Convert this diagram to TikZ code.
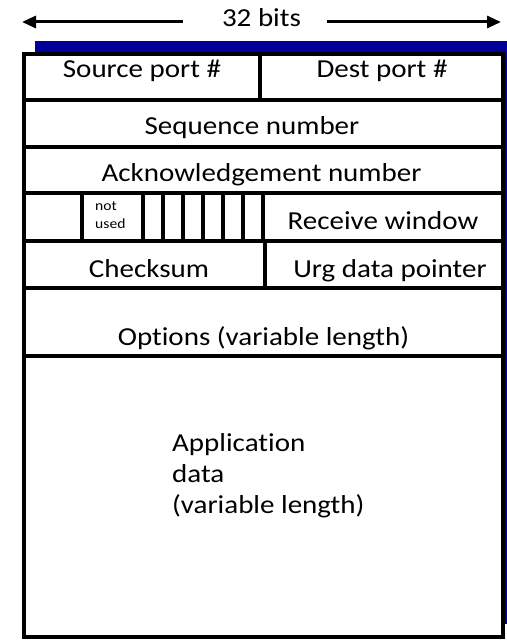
\documentclass[tikz,border=0pt]{standalone}
\usepackage{fontspec}
\setmainfont{Carlito}[FakeStretch=1.12,Ligatures=NoCommon]
\usetikzlibrary{arrows.meta}
\definecolor{shadowblue}{RGB}{0,0,153}
\begin{document}
\begin{tikzpicture}[x=1bp,y=-1bp,
  field/.style={draw=black,line width=3.5bp},
  lbl/.style={anchor=base,inner sep=0pt,font=\fontsize{26}{30}\selectfont},
  lblleft/.style={anchor=base west,inner sep=0pt,font=\fontsize{26}{30}\selectfont},
  tinylbl/.style={anchor=base west,inner sep=0pt,font=\fontsize{14}{18}\selectfont},
  widtharrow/.style={line width=3bp,-{Triangle[length=14bp,width=12bp]}}]
\useasboundingbox (0,0) rectangle (507,640);

% drop shadow behind the header frame
\fill[shadowblue] (35,41) rectangle (514,624);

% outer frame of the segment
\filldraw[field,fill=white] (24,54) rectangle (503,637);

% row separators
\foreach \yy in {100,147,193,241,288,356}
  \draw[field] (24,\yy) -- (503,\yy);

% column separators
\draw[field] (260,54) -- (260,100);
\draw[field] (82,193) -- (82,241);
\foreach \xx in {143,163,183,203,223,243,263}
  \draw[field] (\xx,193) -- (\xx,241);
\draw[field] (265,241) -- (265,288);

% field labels
\node[lbl] (src)  at (142,78)   {Source port \#};
\node[lbl] (dst)  at (382,78)   {Dest port \#};
\node[lbl] (seq)  at (252,135)  {Sequence number};
\node[lbl] (ack)  at (261.5,182){Acknowledgement number};
\node[tinylbl] (nu1) at (95,210) {not};
\node[tinylbl] (nu2) at (95,228) {used};
\node[lbl] (rwnd) at (383,229)  {Receive window};
\node[lbl] (csum) at (149,277)  {Checksum};
\node[lbl] (urg)  at (390,277)  {Urg data pointer};
\node[lbl] (opts) at (263.5,345){Options (variable length)};
\node[lblleft] (app1) at (172,451) {Application};
\node[lblleft] (app2) at (172,482) {data};
\node[lblleft] (app3) at (172,513) {(variable length)};

% width indicator
\node[lbl] (bits) at (261.5,27) {32 bits};
\coordinate (lstart) at (183,22);
\coordinate (ltip)   at (22,22);
\coordinate (rstart) at (327,22);
\coordinate (rtip)   at (501,22);
\draw[widtharrow] (lstart) -- (ltip);
\draw[widtharrow] (rstart) -- (rtip);
\end{tikzpicture}
\end{document}
